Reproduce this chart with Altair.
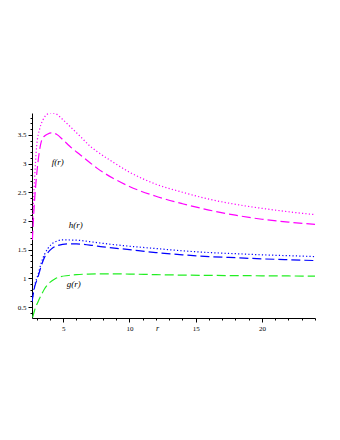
import altair as alt
import pandas as pd

# --- data ---
f_dot_r = [2.7, 2.85, 3.0, 3.25, 3.5, 3.75, 4.14, 4.5, 5.0, 5.5, 6.3, 7.05, 7.55, 8.8, 10, 12, 14, 16, 18, 20, 22, 24]
f_dot_v = [2.0, 2.75, 3.3, 3.62, 3.77, 3.85, 3.885, 3.86, 3.76, 3.65, 3.47, 3.30, 3.21, 3.02, 2.85, 2.64, 2.50, 2.38, 2.29, 2.22, 2.16, 2.11]

f_dash_r = [2.68, 2.8, 3.0, 3.2, 3.4, 3.6, 3.8, 4.1, 4.5, 5.0, 5.5, 6.3, 7.05, 7.55, 8.8, 10, 12, 14, 16, 18, 20, 22, 24]
f_dash_v = [1.67, 2.2, 2.8, 3.2, 3.42, 3.48, 3.51, 3.535, 3.51, 3.41, 3.30, 3.15, 3.01, 2.92, 2.74, 2.60, 2.43, 2.30, 2.19, 2.10, 2.03, 1.98, 1.94]

h_dot_r = [2.65, 2.85, 3.1, 3.35, 3.6, 3.85, 4.1, 4.5, 4.9, 6, 7, 8, 10, 12, 14, 16, 18, 20, 22, 24]
h_dot_v = [0.62, 0.88, 1.06, 1.27, 1.42, 1.52, 1.59, 1.645, 1.67, 1.665, 1.64, 1.61, 1.56, 1.52, 1.48, 1.45, 1.43, 1.41, 1.395, 1.38]

h_dash_r = [2.65, 2.85, 3.1, 3.35, 3.6, 3.85, 4.1, 4.5, 5.4, 6, 7, 8, 10, 12, 14, 16, 18, 20, 22, 24]
h_dash_v = [0.59, 0.85, 1.02, 1.22, 1.37, 1.45, 1.51, 1.565, 1.60, 1.60, 1.58, 1.55, 1.50, 1.45, 1.41, 1.38, 1.36, 1.34, 1.325, 1.31]

g_dash_r = [2.7, 2.85, 3.1, 3.35, 3.6, 4.0, 4.37, 4.8, 5.4, 6.0, 6.9, 8.5, 10, 12, 14, 16, 18, 20, 22, 24]
g_dash_v = [0.32, 0.45, 0.59, 0.71, 0.82, 0.93, 0.99, 1.03, 1.05, 1.065, 1.075, 1.08, 1.075, 1.065, 1.057, 1.052, 1.048, 1.045, 1.042, 1.04]

series_names = ["f_dot", "f_dash", "h_dot", "h_dash", "g_dash"]
series_colors = ["#ff00ff", "#ff00ff", "#0000ff", "#0000ff", "#22ee22"]
series_dash = [[1.2, 2.2], [9, 4], [1.2, 2.2], [9, 4], [9, 4]]

label_text = ["f(r)", "h(r)", "g(r)"]
label_r = [4.6, 5.95, 5.8]
label_v = [3.02, 1.93, 0.91]

x_labels = [5, 10, 15, 20]
x_minor = [v for v in range(3, 25) if v % 5 != 0]
y_labels = [0.5, 1.0, 1.5, 2.0, 2.5, 3.0, 3.5]
y_minor = [round(0.4 + 0.1 * i, 1) for i in range(35) if (4 + i) % 5 != 0]

rows = []
for name, rs, vs in [("f_dot", f_dot_r, f_dot_v), ("f_dash", f_dash_r, f_dash_v),
                     ("h_dot", h_dot_r, h_dot_v), ("h_dash", h_dash_r, h_dash_v),
                     ("g_dash", g_dash_r, g_dash_v)]:
    for r, v in zip(rs, vs):
        rows.append({"series": name, "r": r, "v": v})
df = pd.DataFrame(rows)
lab = pd.DataFrame({"text": label_text, "r": label_r, "v": label_v})

FONT = "Liberation Serif"

xscale = alt.Scale(domain=[2.65, 24], nice=False, zero=False)
yscale = alt.Scale(domain=[0.31, 3.88], nice=False, zero=False)

common = dict(grid=False, domainColor="black", tickColor="black", labelFont=FONT,
              labelFontSize=7, labelColor="black", labelFlush=False, labelOverlap=False,
              domainWidth=1, tickWidth=1)

xaxis_major = alt.Axis(values=x_labels, tickSize=4, labelPadding=2, title="r", orient="bottom",
                       titleFont=FONT, titleFontStyle="italic", titleFontWeight="normal",
                       titleFontSize=8, titleX=125, titleY=10, titleBaseline="middle",
                       titleColor="black", **common)
yaxis_major = alt.Axis(values=y_labels, format=".1~f", tickSize=4, labelPadding=2, title=None,
                       orient="left", **common)
xaxis_minor = alt.Axis(values=x_minor, tickSize=2, labels=False, title=None, orient="bottom",
                       domain=False, grid=False, tickColor="black", tickWidth=1)
yaxis_minor = alt.Axis(values=y_minor, tickSize=2, labels=False, title=None, orient="left",
                       domain=False, grid=False, tickColor="black", tickWidth=1)

lines = alt.Chart(df).mark_line(strokeWidth=1.2, interpolate="monotone", clip=True).encode(
    x=alt.X("r:Q", scale=xscale, axis=xaxis_major),
    y=alt.Y("v:Q", scale=yscale, axis=yaxis_major),
    color=alt.Color("series:N", scale=alt.Scale(domain=series_names, range=series_colors), legend=None),
    strokeDash=alt.StrokeDash("series:N", scale=alt.Scale(domain=series_names, range=series_dash), legend=None),
    detail="series:N",
)

texts = alt.Chart(lab).mark_text(font=FONT, fontStyle="italic", fontSize=9, color="black").encode(
    x=alt.X("r:Q", scale=xscale, axis=xaxis_minor),
    y=alt.Y("v:Q", scale=yscale, axis=yaxis_minor),
    text="text:N",
)

chart = alt.layer(lines, texts).resolve_axis(x="independent", y="independent").properties(
    width=283, height=205,
    background="white",
    autosize=alt.AutoSizeParams(type="none"),
    padding={"left": 24, "top": 105, "right": 17, "bottom": 114},
).configure_view(stroke=None)

chart.save("out.html", embed_options={"renderer": "svg", "actions": False})
